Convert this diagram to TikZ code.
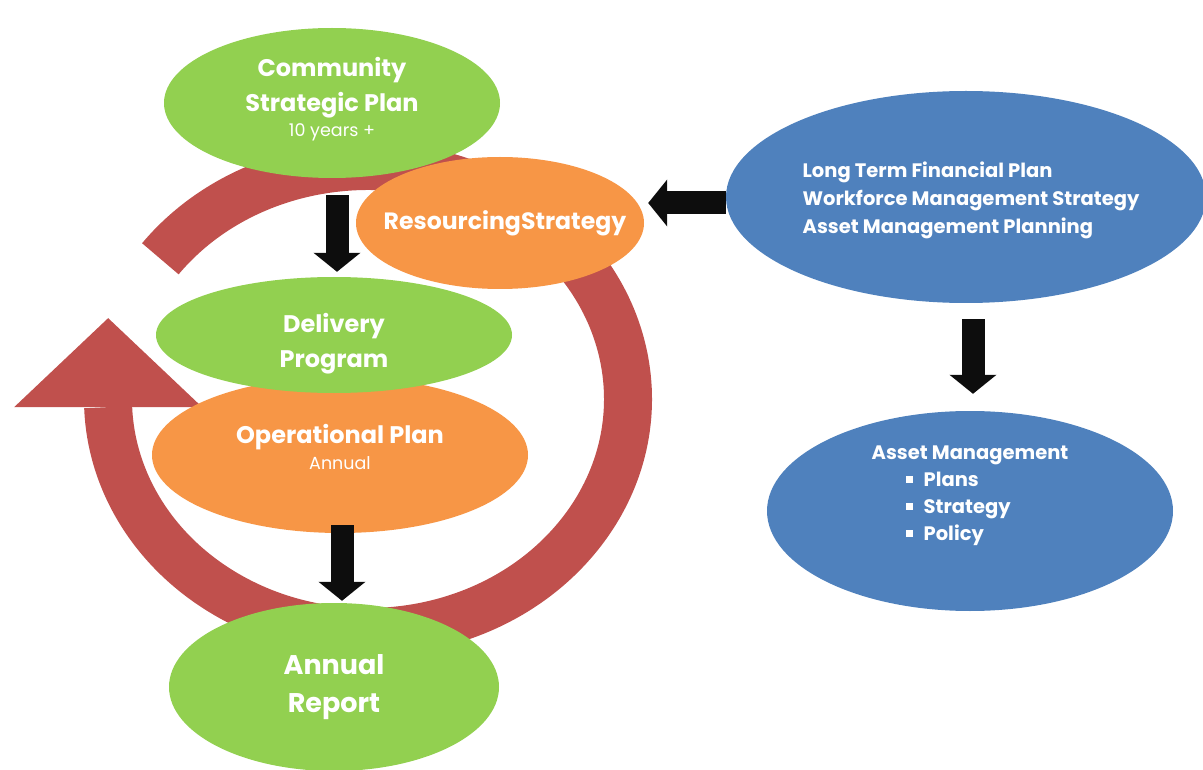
\documentclass[tikz,border=0pt]{standalone}
\usepackage{fontspec}
\setmainfont{Poppins}
\usetikzlibrary{arrows.meta,positioning,shapes.geometric,calc}
\definecolor{leafgreen}{HTML}{92D050}
\definecolor{planorange}{HTML}{F79646}
\definecolor{stratblue}{HTML}{4F81BD}
\definecolor{ringred}{HTML}{C0504D}
\definecolor{arrowblack}{HTML}{0D0D0D}
\newcommand{\sqbullet}{\hspace*{34pt}\rule[4pt]{7pt}{7pt}\hspace{11pt}}
\newcommand{\subnote}[1]{{\mdseries\fontsize{17.5}{20}\selectfont #1}}

\begin{document}
\begin{tikzpicture}[x=1pt, y=-1pt,
  blob/.style={ellipse, inner sep=0pt},
  greenblob/.style={blob, fill=leafgreen},
  orangeblob/.style={blob, fill=planorange},
  blueblob/.style={blob, fill=stratblue},
  caption/.style={text=white, align=center, inner sep=0pt,
    font=\bfseries\fontsize{24}{35}\selectfont},
  listcaption/.style={caption, align=left,
    font=\bfseries\fontsize{19.5}{28}\selectfont},
  blockarrow/.style={draw=arrowblack, line width=23pt,
    -{Triangle[width=46pt,length=19pt]}},
  ring/.style={draw=ringred, line width=48pt}
]
  \useasboundingbox (0,0) rectangle (1203,770);

  % red cycle arrow behind the plans
  \coordinate (hub) at (368,399);
  \draw[ring] (hub) ++(-143:260 and 233)
    arc[start angle=-143, end angle=178, x radius=260, y radius=233]
    coordinate (ringend);
  \fill[ringred] ([xshift=-94pt]ringend) -- ([yshift=89pt]ringend)
    -- ([xshift=94pt]ringend) -- cycle;

  % planning ellipses
  \node[greenblob, minimum width=336pt, minimum height=150pt] (csp) at (332,103) {};
  \node[orangeblob, minimum width=288pt, minimum height=132pt] (res) at (500,223) {};
  \node[orangeblob, minimum width=376pt, minimum height=156pt] (ops) at (340,455) {};
  \node[greenblob, minimum width=356pt, minimum height=116pt] (del) at (334,335) {};
  \node[greenblob, minimum width=330pt, minimum height=168pt] (ann) at (334,687) {};
  \node[blueblob, minimum width=480pt, minimum height=212pt] (ltfp) at (966,197) {};
  \node[blueblob, minimum width=406pt, minimum height=200pt] (amp) at (970,511) {};

  \node[caption, yshift=4pt] (csp-text) at (csp)
    {Community\\Strategic Plan\\[-10pt]\subnote{10 years +}};
  \node[caption, xshift=5pt, font=\bfseries\fontsize{23.6}{35}\selectfont]
    (res-text) at (res) {ResourcingStrategy};
  \node[caption, yshift=-9pt] (del-text) at (del) {Delivery\\Program};
  \node[caption, yshift=8pt] (ops-text) at (ops)
    {Operational Plan\\[-9pt]\subnote{Annual}};
  \node[caption, font=\bfseries\fontsize{27}{38}\selectfont] (ann-text) at (ann)
    {Annual\\Report};
  \node[listcaption, xshift=5pt, yshift=-3pt] (ltfp-text) at (ltfp)
    {Long Term Financial Plan\\Workforce Management Strategy\\Asset Management Planning};
  \node[listcaption, yshift=15pt, font=\bfseries\fontsize{19.5}{27}\selectfont]
    (amp-text) at (amp)
    {Asset Management\\\sqbullet Plans\\\sqbullet Strategy\\\sqbullet Policy};

  % flow arrows
  \draw[blockarrow, shorten <=17pt, shorten >=5pt]
    ([xshift=5pt]csp.south) -- ([xshift=3pt]del.north);
  \draw[blockarrow, shorten <=-8pt, shorten >=2pt]
    ([xshift=2pt]ops.south) -- ([xshift=8pt]ann.north);
  \draw[blockarrow, shorten >=4pt]
    ([yshift=-6pt]ltfp.west) -- ([yshift=-6pt]ltfp.west -| res.east);
  \draw[blockarrow, shorten <=16pt, shorten >=17pt]
    ([xshift=7pt]ltfp.south) -- ([xshift=3pt]amp.north);
\end{tikzpicture}
\end{document}
